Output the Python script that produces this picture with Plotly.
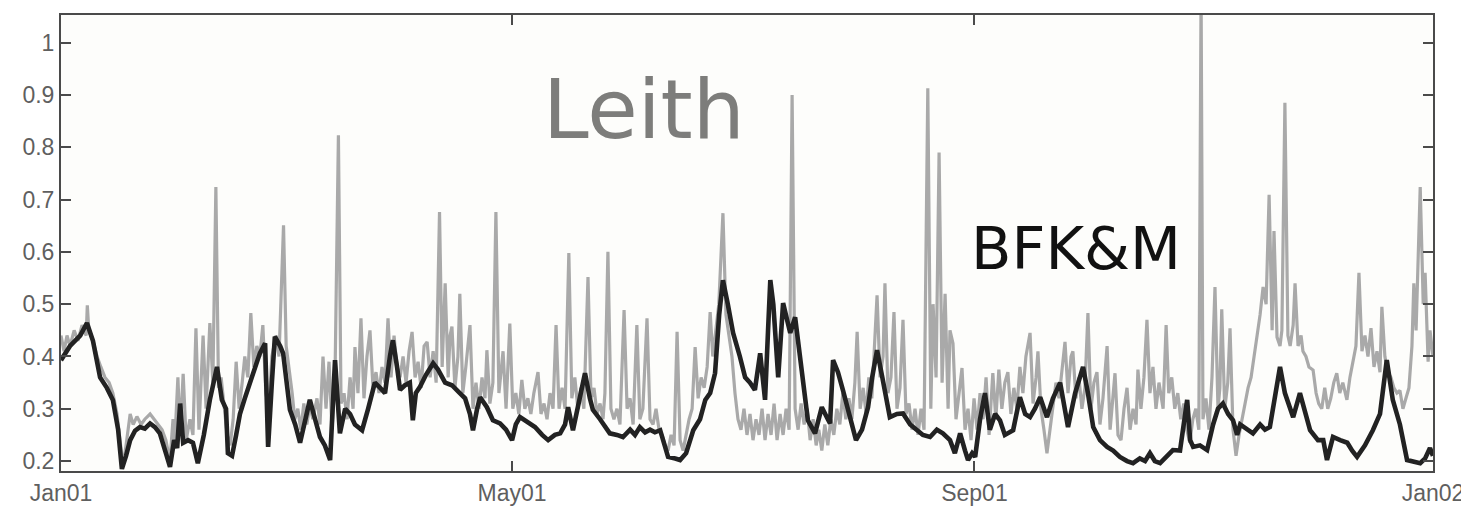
import pandas as pd
import plotly.graph_objects as go

# ---------------- data (day offset from 2001-01-01, value) ----------------
leith_days = [
    0.0, 0.8, 1.6, 2.4, 3.5, 4.5, 5.6, 6.7, 7.0, 7.4, 8.5, 9.6, 10.6, 11.7, 12.8, 13.8, 14.9, 16.0, 16.5, 17.3,
    18.4, 19.2, 20.2, 21.3, 22.3, 23.7, 24.7, 25.8, 26.9, 27.9, 29.0, 29.8, 30.3, 31.1, 31.7, 32.5, 33.3, 34.3,
    35.1, 35.9, 36.7, 37.8, 38.6, 39.6, 40.4, 41.2, 41.9, 42.6, 43.4, 44.2, 45.0, 45.8, 46.6, 47.4, 48.2, 48.9,
    49.7, 50.5, 51.3, 52.1, 52.9, 53.7, 54.5, 55.3, 56.1, 57.2, 58.0, 59.2, 59.9, 60.7, 61.5, 62.2, 63.0, 63.8,
    64.6, 65.4, 66.2, 67.0, 68.1, 68.9, 69.7, 70.5, 71.3, 72.1, 72.9, 73.8, 74.5, 75.3, 76.1, 76.9, 77.7, 78.2,
    79.0, 79.8, 80.6, 81.4, 82.2, 83.0, 83.8, 84.6, 85.4, 86.2, 87.0, 87.8, 88.6, 89.4, 90.2, 91.0, 91.8, 92.6,
    93.4, 94.2, 95.0, 95.8, 96.6, 97.4, 98.2, 99.0, 99.8, 100.7, 101.4, 102.2, 103.0, 103.5, 104.0, 104.8, 105.6,
    106.1, 106.9, 107.7, 108.8, 109.6, 110.4, 111.2, 112.0, 112.8, 113.3, 114.1, 114.9, 115.7, 116.5, 117.6,
    118.4, 119.4, 120.2, 121.0, 121.8, 122.6, 123.4, 124.2, 125.0, 125.8, 126.9, 127.7, 128.5, 129.3, 130.1,
    130.9, 131.7, 132.5, 133.3, 134.1, 135.1, 135.9, 136.7, 137.5, 138.3, 139.1, 140.2, 141.0, 141.8, 142.6,
    143.4, 144.2, 144.7, 145.5, 146.3, 147.1, 147.9, 148.7, 149.8, 150.6, 151.4, 152.2, 153.2, 154.0, 154.8,
    155.9, 156.7, 157.5, 158.3, 159.1, 159.9, 160.7, 161.5, 162.3, 163.1, 163.9, 164.7, 165.5, 166.3, 167.1,
    167.9, 168.7, 169.5, 170.3, 171.1, 171.9, 172.7, 173.4, 174.2, 175.0, 176.1, 176.9, 177.7, 178.5, 179.3,
    180.1, 180.9, 181.7, 182.5, 183.3, 184.1, 184.9, 185.7, 186.5, 187.3, 188.1, 188.9, 189.7, 190.5, 191.3,
    192.1, 192.9, 193.7, 194.5, 195.3, 196.1, 196.9, 197.7, 198.5, 199.3, 200.1, 200.9, 201.6, 202.4, 203.2,
    204.0, 204.8, 205.6, 206.4, 207.2, 208.0, 208.8, 209.6, 210.4, 211.2, 211.8, 212.6, 213.4, 214.2, 214.9,
    215.7, 216.5, 217.1, 217.9, 218.7, 219.2, 220.0, 220.8, 221.6, 222.4, 223.2, 224.0, 224.8, 225.6, 226.4,
    227.2, 228.0, 228.8, 229.6, 230.6, 231.4, 232.0, 232.8, 233.6, 234.4, 235.2, 236.0, 236.5, 237.3, 238.1,
    238.9, 239.7, 240.5, 241.3, 242.1, 242.9, 243.7, 244.5, 245.3, 246.1, 246.9, 247.9, 248.7, 249.5, 250.3,
    251.1, 251.9, 252.7, 253.5, 254.3, 255.1, 255.9, 256.7, 257.8, 258.6, 259.4, 259.9, 260.7, 261.5, 262.3,
    263.1, 263.9, 264.7, 265.5, 266.3, 267.1, 267.9, 268.7, 269.2, 270.0, 270.8, 271.6, 272.4, 273.2, 274.0,
    274.8, 275.6, 276.4, 277.2, 278.3, 279.1, 279.6, 280.4, 281.2, 282.0, 282.8, 283.6, 284.4, 285.2, 286.0,
    286.5, 287.3, 288.1, 288.9, 289.7, 290.5, 291.3, 292.1, 293.2, 294.0, 294.7, 295.5, 296.3, 297.1, 297.9,
    298.7, 299.5, 300.3, 301.1, 301.9, 302.7, 303.3, 303.8, 304.6, 305.4, 306.2, 307.0, 307.8, 308.3, 308.8,
    309.6, 310.4, 311.0, 311.8, 312.6, 313.4, 314.2, 315.0, 315.8, 316.6, 317.4, 318.2, 319.0, 319.8, 320.6,
    321.4, 322.2, 322.7, 323.5, 324.3, 324.8, 325.6, 326.4, 327.0, 327.8, 328.3, 329.1, 329.9, 330.4, 331.2,
    332.0, 333.1, 333.9, 334.6, 335.4, 336.2, 337.0, 337.8, 338.6, 339.4, 340.2, 341.0, 342.1, 342.9, 343.7,
    344.5, 345.3, 346.1, 346.9, 347.7, 348.5, 349.3, 350.1, 350.9, 351.4, 352.2, 353.0, 353.8, 354.6, 355.4,
    356.2, 357.0, 357.8, 358.6, 359.4, 359.9, 360.5, 361.0, 361.6, 362.4, 362.9, 363.7, 364.2, 365.0,
]
leith_vals = [
    0.44, 0.41, 0.44, 0.42, 0.45, 0.43, 0.46, 0.44, 0.498, 0.45, 0.43, 0.40, 0.38, 0.36, 0.35, 0.33, 0.29, 0.22, 0.19, 0.23,
    0.29, 0.27, 0.285, 0.27, 0.28, 0.29, 0.28, 0.27, 0.26, 0.24, 0.20, 0.28, 0.24, 0.36, 0.25, 0.367, 0.24, 0.28,
    0.25, 0.454, 0.26, 0.44, 0.30, 0.464, 0.35, 0.724, 0.34, 0.36, 0.30, 0.25, 0.23, 0.28, 0.39, 0.30, 0.35, 0.40,
    0.36, 0.483, 0.38, 0.42, 0.40, 0.46, 0.33, 0.30, 0.40, 0.44, 0.40, 0.651, 0.42, 0.38, 0.33, 0.28, 0.30, 0.26,
    0.31, 0.27, 0.307, 0.28, 0.32, 0.27, 0.40, 0.30, 0.39, 0.26, 0.36, 0.823, 0.31, 0.33, 0.28, 0.36, 0.30, 0.418,
    0.33, 0.473, 0.32, 0.40, 0.45, 0.34, 0.37, 0.33, 0.38, 0.35, 0.473, 0.36, 0.44, 0.38, 0.36, 0.40, 0.35, 0.41,
    0.447, 0.36, 0.39, 0.34, 0.42, 0.428, 0.36, 0.41, 0.35, 0.676, 0.38, 0.54, 0.36, 0.44, 0.457, 0.34, 0.40,
    0.52, 0.33, 0.38, 0.46, 0.30, 0.35, 0.30, 0.36, 0.32, 0.412, 0.31, 0.35, 0.676, 0.33, 0.41,
    0.30, 0.463, 0.30, 0.33, 0.29, 0.355, 0.30, 0.32, 0.29, 0.33, 0.37, 0.29, 0.31, 0.28, 0.33,
    0.30, 0.46, 0.30, 0.34, 0.30, 0.598, 0.32, 0.36, 0.30, 0.34, 0.30, 0.552, 0.32, 0.34, 0.29,
    0.31, 0.28, 0.33, 0.60, 0.30, 0.28, 0.30, 0.27, 0.489, 0.30, 0.32, 0.27, 0.46, 0.28, 0.30,
    0.473, 0.28, 0.27, 0.30, 0.26, 0.25, 0.23, 0.22, 0.25, 0.23, 0.447, 0.24, 0.22, 0.25, 0.28,
    0.30, 0.418, 0.32, 0.36, 0.34, 0.38, 0.485, 0.40, 0.45, 0.50, 0.674, 0.48, 0.44, 0.40, 0.33,
    0.28, 0.26, 0.30, 0.25, 0.29, 0.24, 0.28, 0.25, 0.30, 0.24, 0.29, 0.25, 0.31, 0.24, 0.29,
    0.25, 0.30, 0.26, 0.90, 0.30, 0.26, 0.31, 0.27, 0.30, 0.24, 0.28, 0.23, 0.26, 0.22, 0.27,
    0.23, 0.28, 0.25, 0.30, 0.27, 0.33, 0.28, 0.32, 0.28, 0.35, 0.447, 0.30, 0.34, 0.29, 0.36,
    0.32, 0.42, 0.517, 0.36, 0.40, 0.54, 0.33, 0.36, 0.485, 0.30, 0.34, 0.47, 0.29, 0.31, 0.26,
    0.30, 0.25, 0.30, 0.26, 0.913, 0.30, 0.50, 0.36, 0.79, 0.35, 0.52, 0.30, 0.45, 0.425, 0.28,
    0.33, 0.378, 0.26, 0.30, 0.24, 0.32, 0.26, 0.33, 0.28, 0.36, 0.25, 0.368, 0.28, 0.375, 0.30,
    0.35, 0.37, 0.29, 0.34, 0.30, 0.38, 0.33, 0.40, 0.445, 0.31, 0.36, 0.41, 0.30, 0.26, 0.215,
    0.26, 0.30, 0.35, 0.32, 0.38, 0.428, 0.33, 0.40, 0.41, 0.32, 0.36, 0.30, 0.34, 0.483, 0.30,
    0.35, 0.37, 0.27, 0.32, 0.42, 0.26, 0.30, 0.368, 0.25, 0.24, 0.30, 0.34, 0.26, 0.30, 0.27,
    0.375, 0.30, 0.36, 0.47, 0.33, 0.38, 0.30, 0.35, 0.30, 0.46, 0.33, 0.36, 0.30, 0.33, 0.28,
    0.31, 0.26, 0.235, 0.28, 0.30, 0.26, 1.10, 0.28, 0.32, 0.26, 0.36, 0.533, 0.30, 0.34, 0.49,
    0.30, 0.35, 0.454, 0.26, 0.21, 0.25, 0.28, 0.31, 0.34, 0.36, 0.40, 0.45, 0.48, 0.533, 0.50,
    0.709, 0.45, 0.64, 0.437, 0.42, 0.45, 0.885, 0.44, 0.42, 0.46, 0.54, 0.42, 0.44, 0.41, 0.40,
    0.38, 0.374, 0.33, 0.31, 0.30, 0.34, 0.30, 0.32, 0.35, 0.368, 0.33, 0.35, 0.317, 0.36, 0.39,
    0.42, 0.56, 0.41, 0.44, 0.40, 0.454, 0.38, 0.41, 0.37, 0.495, 0.40, 0.37, 0.36, 0.34, 0.33,
    0.335, 0.30, 0.32, 0.34, 0.42, 0.54, 0.45, 0.60, 0.724, 0.50, 0.56, 0.39, 0.45, 0.40,
]

bfkm_days = [
    0.0, 2.4, 5.1, 6.9, 8.5, 10.4, 12.2, 13.8, 15.2, 16.2, 17.3, 18.4, 19.7, 21.0, 22.3, 23.7, 25.0, 26.3, 27.7,
    29.0, 30.1, 30.9, 31.7, 32.5, 33.8, 35.1, 36.4, 38.0, 39.6, 41.5, 42.8, 43.9, 44.4, 45.5, 46.6, 47.6, 48.9,
    50.3, 51.6, 52.9, 54.3, 55.1, 56.1, 56.9, 58.3, 59.1, 60.9, 62.3, 63.6, 64.9, 66.2, 67.6, 68.9, 70.2, 71.6,
    72.9, 74.2, 75.6, 76.9, 78.2, 80.1, 81.7, 83.5, 84.9, 86.2, 87.5, 88.3, 89.4, 90.2, 91.5, 92.8, 93.6, 94.4,
    95.5, 97.1, 99.0, 100.3, 102.2, 104.0, 106.1, 107.5, 108.8, 109.6, 110.7, 111.5, 113.3, 114.9, 116.8, 118.4,
    120.0, 121.0, 122.1, 124.0, 126.1, 128.0, 129.6, 131.4, 132.8, 134.1, 134.9, 136.2, 137.5, 139.4, 140.7,
    141.5, 143.4, 146.0, 147.9, 149.5, 151.4, 152.7, 154.0, 155.4, 156.7, 158.0, 159.4, 160.7, 161.5, 163.4,
    164.7, 166.3, 168.2, 170.0, 171.4, 172.7, 174.0, 175.1, 176.1, 177.4, 178.8, 180.6, 182.0, 183.3, 184.6,
    186.0, 187.3, 188.1, 188.7, 189.5, 190.0, 190.8, 192.1, 193.5, 194.0, 195.3, 196.7, 198.0, 198.7, 200.6,
    202.4, 204.0, 204.6, 205.4, 206.7, 208.0, 209.9, 211.5, 213.1, 214.7, 215.8, 217.1, 218.5, 220.5, 222.4,
    224.0, 225.9, 227.7, 229.3, 231.2, 233.0, 234.6, 236.5, 237.8, 239.2, 240.5, 241.3, 242.4, 243.2, 244.5,
    245.8, 247.1, 248.5, 249.8, 251.1, 253.3, 255.1, 256.5, 257.8, 259.1, 260.5, 262.3, 263.9, 265.8, 267.1,
    267.9, 269.8, 271.9, 273.2, 274.6, 276.4, 278.3, 279.9, 281.7, 283.6, 285.2, 287.0, 288.4, 289.7, 291.0,
    292.4, 294.2, 295.8, 297.7, 299.6, 300.4, 301.2, 303.0, 304.9, 306.5, 307.8, 309.1, 310.5, 311.8, 312.9,
    313.7, 315.5, 317.1, 319.0, 320.3, 321.6, 323.0, 324.3, 325.6, 327.0, 327.8, 329.6, 331.0, 332.3, 334.4,
    335.8, 336.8, 338.4, 340.3, 342.2, 343.5, 344.8, 346.9, 349.0, 350.9, 352.7, 354.3, 356.2, 358.1, 359.7,
    361.6, 362.9, 364.2, 365.0,
]
bfkm_vals = [
    0.393, 0.42, 0.44, 0.464, 0.43, 0.36, 0.34, 0.317, 0.26, 0.185, 0.21, 0.24, 0.258, 0.265, 0.262, 0.272, 0.265,
    0.253, 0.22, 0.189, 0.24, 0.225, 0.31, 0.235, 0.24, 0.235, 0.196, 0.25, 0.317, 0.38, 0.317, 0.30, 0.215, 0.21,
    0.25, 0.29, 0.32, 0.35, 0.38, 0.406, 0.425, 0.227, 0.35, 0.438, 0.42, 0.406, 0.298, 0.27, 0.235, 0.28, 0.317,
    0.28, 0.246, 0.23, 0.202, 0.393, 0.253, 0.30, 0.29, 0.27, 0.259, 0.30, 0.35, 0.34, 0.33, 0.40, 0.431, 0.38,
    0.336, 0.345, 0.35, 0.278, 0.33, 0.342, 0.365, 0.387, 0.375, 0.35, 0.345, 0.33, 0.32, 0.29, 0.259, 0.30,
    0.322, 0.303, 0.278, 0.272, 0.26, 0.24, 0.27, 0.284, 0.275, 0.265, 0.25, 0.24, 0.25, 0.253, 0.27, 0.303,
    0.259, 0.30, 0.368, 0.32, 0.298, 0.28, 0.253, 0.25, 0.246, 0.26, 0.25, 0.265, 0.255, 0.26, 0.255, 0.259,
    0.23, 0.208, 0.205, 0.202, 0.215, 0.259, 0.28, 0.317, 0.33, 0.368, 0.48, 0.546, 0.50, 0.445, 0.40, 0.36,
    0.35, 0.336, 0.406, 0.317, 0.45, 0.546, 0.50, 0.437, 0.36, 0.502, 0.46, 0.445, 0.475, 0.40, 0.32, 0.278,
    0.253, 0.303, 0.28, 0.272, 0.393, 0.37, 0.336, 0.28, 0.24, 0.26, 0.303, 0.36, 0.412, 0.36, 0.284, 0.29,
    0.291, 0.27, 0.259, 0.25, 0.246, 0.26, 0.253, 0.24, 0.215, 0.253, 0.22, 0.202, 0.215, 0.208, 0.28, 0.33,
    0.26, 0.29, 0.278, 0.25, 0.259, 0.322, 0.29, 0.284, 0.30, 0.322, 0.284, 0.32, 0.35, 0.30, 0.265, 0.33,
    0.38, 0.33, 0.265, 0.24, 0.227, 0.22, 0.208, 0.20, 0.196, 0.205, 0.20, 0.215, 0.20, 0.196, 0.21, 0.221,
    0.22, 0.317, 0.24, 0.227, 0.23, 0.221, 0.27, 0.30, 0.31, 0.29, 0.278, 0.25, 0.27, 0.26, 0.253, 0.27,
    0.26, 0.265, 0.33, 0.38, 0.33, 0.30, 0.284, 0.33, 0.29, 0.259, 0.24, 0.24, 0.202, 0.246, 0.24, 0.235,
    0.22, 0.208, 0.23, 0.259, 0.29, 0.393, 0.317, 0.27, 0.202, 0.20, 0.196, 0.205, 0.225, 0.21,
]

x_tick_dates = ["2001-01-01", "2001-05-01", "2001-09-01", "2002-01-01"]
x_tick_labels = ["Jan01", "May01", "Sep01", "Jan02"]
y_tick_vals = [0.2, 0.3, 0.4, 0.5, 0.6, 0.7, 0.8, 0.9, 1.0]
y_tick_labels = ["0.2", "0.3", "0.4", "0.5", "0.6", "0.7", "0.8", "0.9", "1"]

start = pd.Timestamp("2001-01-01")
leith_x = start + pd.to_timedelta(leith_days, unit="D")
bfkm_x = start + pd.to_timedelta(bfkm_days, unit="D")

fig = go.Figure()
fig.add_trace(go.Scatter(x=leith_x, y=leith_vals, mode="lines", name="Leith",
                         line=dict(color="#a9a9a9", width=3.2), showlegend=False))
fig.add_trace(go.Scatter(x=bfkm_x, y=bfkm_vals, mode="lines", name="BFK&M",
                         line=dict(color="#222222", width=4.6), showlegend=False))

fig.add_annotation(x="2001-06-05", y=0.872, text="Leith", showarrow=False,
                   font=dict(family="DejaVu Sans", size=82, color="#7d7d7b"))
fig.add_annotation(x="2001-09-28", y=0.606, text="BFK&amp;M", showarrow=False,
                   font=dict(family="DejaVu Sans", size=59, color="#111111"))

axis_common = dict(showline=True, linecolor="#4a4a4a", linewidth=2, mirror="ticks",
                   ticks="inside", ticklen=10, tickcolor="#4a4a4a", tickwidth=1.5,
                   showgrid=False, zeroline=False, automargin=False,
                   tickfont=dict(family="Liberation Sans", size=23, color="#5f5f5f"))

fig.update_xaxes(type="date", range=["2001-01-01", "2002-01-01"],
                 tickvals=x_tick_dates, ticktext=x_tick_labels, **axis_common)
fig.update_yaxes(range=[0.181, 1.053], tickvals=y_tick_vals, ticktext=y_tick_labels,
                 **axis_common)

# The page body has an 8px default margin, so the figure is sized to fit the window.
fig.update_layout(width=1461, height=499, margin=dict(l=53, r=36, t=7, b=36),
                  paper_bgcolor="white", plot_bgcolor="#fdfdfb")

fig.write_html("out.html")
